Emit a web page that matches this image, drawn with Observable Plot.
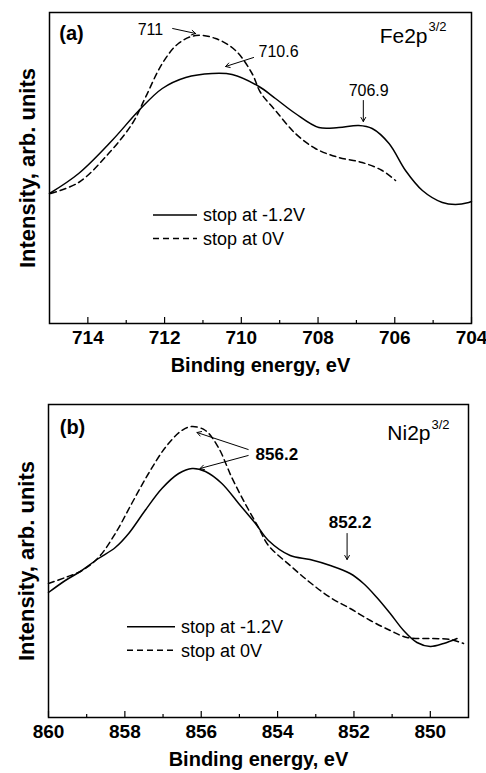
<!DOCTYPE html>
<html><head><meta charset="utf-8">
<script src="https://cdn.jsdelivr.net/npm/d3@7"></script>
<script src="https://cdn.jsdelivr.net/npm/@observablehq/plot@0.6"></script>
<style>
body{margin:0;background:#fff;}
#wrap{position:relative;width:486px;height:773px;overflow:hidden;background:#fff;}
#wrap svg{position:absolute;left:0;}
</style></head><body><div id="wrap"></div>
<script>
const FONT = "'Liberation Sans', Arial, Helvetica, sans-serif";

// ---------- Panel (a): Fe2p3/2 ----------
const feMajorTicks = [714, 712, 710, 708, 706, 704];
const feMinorTicks = [713, 711, 709, 707, 705];
const feSolidE = [715.0, 714.24, 713.37, 712.67, 712.06, 711.45, 710.76, 710.24, 709.54, 709.11, 708.59, 707.98, 707.46, 706.94, 706.59, 706.15, 705.72, 705.28, 704.76, 704.42, 704.07, 704.0];
const feSolidI = [130, 150, 183, 213, 235, 246, 250, 249, 237, 225, 210, 196, 196, 198, 195, 180, 153, 133, 121, 119, 121, 122];
const feDashedE = [714.97, 714.24, 713.46, 712.84, 712.5, 712.06, 711.64, 711.19, 710.67, 710.15, 709.72, 709.5, 709.11, 708.59, 708.07, 707.46, 706.85, 706.33, 705.98];
const feDashedI = [130, 141, 170, 200, 226, 260, 280, 288, 285, 273, 250, 231, 213, 190, 175, 166, 161, 153, 143];
const feNoteText = ["711", "710.6", "706.9"];
const feNoteE = [712.37, 709.03, 706.68];
const feNoteI = [294, 272, 233];
const feArrowFromE = [711.79, 709.68, 706.82];
const feArrowFromI = [295, 266, 223];
const feArrowToE = [711.19, 710.41, 706.82];
const feArrowToI = [290, 257, 202];

// ---------- Panel (b): Ni2p3/2 ----------
const niMajorTicks = [860, 858, 856, 854, 852, 850];
const niMinorTicks = [859, 857, 855, 853, 851];
const niSolidE = [860.0, 859.56, 859.21, 858.69, 858.25, 857.90, 857.47, 857.03, 856.59, 856.24, 855.89, 855.46, 855.02, 854.58, 854.24, 853.67, 853.15, 852.62, 852.10, 851.75, 851.40, 851.05, 850.70, 850.35, 850.00, 849.65, 849.30];
const niSolidI = [125, 137, 145, 159, 170, 184, 207, 229, 244, 249, 246, 234, 214, 194, 177, 162, 158, 152, 144, 134, 120, 104, 87, 75, 71, 74, 79];
const niDashedE = [860.0, 859.56, 859.12, 858.69, 858.25, 857.82, 857.38, 856.94, 856.51, 856.24, 855.89, 855.55, 855.20, 854.85, 854.50, 854.24, 853.67, 853.15, 852.62, 852.10, 851.57, 851.05, 850.61, 850.00, 849.48, 849.13];
const niDashedI = [134, 140, 147, 160, 184, 214, 244, 270, 287, 291, 287, 270, 240, 214, 190, 172, 152, 135, 120, 109, 97, 87, 80, 79, 78, 74];
const niNoteText = ["856.2", "852.2"];
const niNoteE = [854.02, 852.10];
const niNoteI = [263, 195];
const niArrowFromE = [854.77, 854.77, 852.18];
const niArrowFromI = [268, 262, 184];
const niArrowToE = [856.11, 856.03, 852.18];
const niArrowToI = [285, 249, 158];

const legendLabels = ["stop at -1.2V", "stop at 0V"];
const xTitle = "Binding energy, eV";
const yTitle = "Intensity, arb. units";

function zipPts(E, I) { return E.map((e, i) => ({e, v: I[i]})); }

function makePanel(p) {
  const notes = p.noteText.map((t, i) => ({t, x: p.noteE[i], y: p.noteI[i]}));
  const arrows = p.fromE.map((e, i) => ({x1: e, y1: p.fromI[i], x2: p.toE[i], y2: p.toI[i]}));
  const svg = Plot.plot({
    width: 486, height: p.height,
    marginTop: p.mt, marginBottom: p.mb, marginLeft: p.ml, marginRight: p.mr,
    style: {fontFamily: FONT, background: "white", color: "black", overflow: "visible"},
    x: {domain: p.xDomain, axis: null},
    y: {domain: p.yDomain, axis: null},
    marks: [
      Plot.line(zipPts(p.solidE, p.solidI), {x: "e", y: "v", curve: "catmull-rom", stroke: "black", strokeWidth: 1.5}),
      Plot.line(zipPts(p.dashedE, p.dashedI), {x: "e", y: "v", curve: "catmull-rom", stroke: "black", strokeWidth: 1.5, strokeDasharray: "6,4"}),
      Plot.axisX(p.minor, {tickSize: -3, tickFormat: () => "", label: null, strokeWidth: 1.2}),
      Plot.axisX(p.major, {tickSize: -6, tickFormat: () => "", label: null, strokeWidth: 1.2}),
      Plot.axisX(p.major, {tickSize: 0, tickPadding: 7, fontSize: 19, fontWeight: "bold", label: null, tickFormat: d => String(d)}),
      Plot.frame({stroke: "black", strokeWidth: 1.5}),
      Plot.text(notes, {x: "x", y: "y", text: "t", fontSize: p.noteSize, fontWeight: p.noteWeight, fill: "black"}),
      Plot.arrow(arrows, {x1: "x1", y1: "y1", x2: "x2", y2: "y2", headLength: 7, strokeWidth: 1, stroke: "black"}),
      Plot.text([p.letter], {frameAnchor: "top-left", textAnchor: "middle", lineAnchor: "middle", dx: p.letterDx, dy: p.letterDy, fontSize: 20, fontWeight: "bold", fill: "black"}),
      Plot.text([p.elem], {frameAnchor: "top-right", textAnchor: "end", lineAnchor: "middle", dx: p.elemDx, dy: p.elemDy, fontSize: 21, fill: "black"}),
      Plot.text(["3/2"], {frameAnchor: "top-right", textAnchor: "start", lineAnchor: "middle", dx: p.elemDx + 1, dy: p.supDy, fontSize: 13, fill: "black"}),
      Plot.text([yTitle], {frameAnchor: "left", textAnchor: "middle", lineAnchor: "middle", dx: -22, rotate: -90, fontSize: 22, fontWeight: "bold", fill: "black"}),
      Plot.text([xTitle], {frameAnchor: "bottom", textAnchor: "middle", lineAnchor: "middle", dy: 42, fontSize: 20, fontWeight: "bold", fill: "black"})
    ]
  });
  // legend drawn inside the plot's svg
  const s = d3.select(svg);
  const g = s.append("g").attr("font-family", FONT).attr("font-size", 18).attr("text-anchor", "start");
  [0, 1].forEach(i => {
    const y = p.legY + i * 23.5;
    g.append("line").attr("x1", p.legX).attr("x2", p.legX + p.legLen).attr("y1", y).attr("y2", y)
      .attr("stroke", "black").attr("stroke-width", 1.5)
      .attr("stroke-dasharray", i === 1 ? "6,4" : null);
    g.append("text").attr("x", p.legX + p.legLen + 6).attr("y", y).attr("dy", "0.35em")
      .attr("text-anchor", "start").attr("fill", "black").text(legendLabels[i]);
  });
  svg.style.top = p.top + "px";
  return svg;
}

const wrap = document.getElementById("wrap");
wrap.appendChild(makePanel({
  top: 0, height: 385, mt: 12, mb: 62, ml: 49, mr: 15,
  xDomain: [715, 704], yDomain: [0, 311],
  major: feMajorTicks, minor: feMinorTicks,
  solidE: feSolidE, solidI: feSolidI, dashedE: feDashedE, dashedI: feDashedI,
  noteText: feNoteText, noteE: feNoteE, noteI: feNoteI, noteSize: 16, noteWeight: "normal",
  fromE: feArrowFromE, fromI: feArrowFromI, toE: feArrowToE, toI: feArrowToI,
  letter: "(a)", letterDx: 22, letterDy: 21,
  elem: "Fe2p", elemDx: -44, elemDy: 24, supDy: 14,
  legX: 153, legY: 215, legLen: 44
}));
wrap.appendChild(makePanel({
  top: 390, height: 383, mt: 14, mb: 56, ml: 48, mr: 18,
  xDomain: [860, 849], yDomain: [0, 313],
  major: niMajorTicks, minor: niMinorTicks,
  solidE: niSolidE, solidI: niSolidI, dashedE: niDashedE, dashedI: niDashedI,
  noteText: niNoteText, noteE: niNoteE, noteI: niNoteI, noteSize: 17, noteWeight: "bold",
  fromE: niArrowFromE, fromI: niArrowFromI, toE: niArrowToE, toI: niArrowToI,
  letter: "(b)", letterDx: 24, letterDy: 23,
  elem: "Ni2p", elemDx: -38, elemDy: 29, supDy: 20,
  legX: 127, legY: 236.7, legLen: 48
}));
</script></body></html>
